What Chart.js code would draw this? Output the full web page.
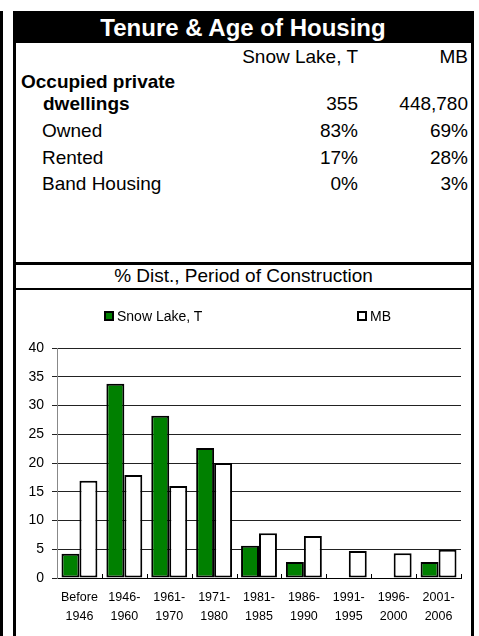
<!DOCTYPE html>
<html><head><meta charset="utf-8">
<script src="https://cdn.jsdelivr.net/npm/chart.js@4/dist/chart.umd.min.js"></script>
<style>
html,body{margin:0;padding:0;background:#fff;}
body{width:479px;height:636px;position:relative;overflow:hidden;font-family:"Liberation Sans",Arial,sans-serif;color:#000;}
.blk{position:absolute;background:#000;}
.t{position:absolute;font-size:19px;line-height:20px;white-space:nowrap;}
.b{font-weight:bold;}
#cv{position:absolute;left:16px;top:291px;}
.lg{position:absolute;font-size:14px;line-height:16px;white-space:nowrap;}
.lgbox{position:absolute;width:10px;height:10px;box-sizing:border-box;border:2px solid #000;}
</style></head><body>
<script>
// ---- Data ----
const tableTitle = "Tenure & Age of Housing";
const tableColumns = ["Snow Lake, T", "MB"];
const tableRowLabels = [["Occupied private", "dwellings"], ["Owned"], ["Rented"], ["Band Housing"]];
const tableSnowLake = ["355", "83%", "17%", "0%"];
const tableMB = ["448,780", "69%", "28%", "3%"];
const chartTitle = "% Dist., Period of Construction";
const categories = [["Before","1946"],["1946-","1960"],["1961-","1970"],["1971-","1980"],["1981-","1985"],["1986-","1990"],["1991-","1995"],["1996-","2000"],["2001-","2006"]];
const seriesNames = ["Snow Lake, T", "MB"];
const snowLakeValues = [4.2, 33.8, 28.2, 22.6, 5.6, 2.8, 0, 0, 2.8];
const mbValues = [16.9, 17.9, 16.0, 20.0, 7.8, 7.3, 4.7, 4.3, 4.9];
const yTicks = [0, 5, 10, 15, 20, 25, 30, 35, 40];
</script>

<!-- frame -->
<div class="blk" style="left:0;top:11px;width:3px;height:625px;"></div>
<div class="blk" style="left:13px;top:11px;width:3px;height:625px;"></div>
<div class="blk" style="left:471px;top:11px;width:3px;height:625px;"></div>
<div class="blk" style="left:13px;top:11px;width:460px;height:32px;"></div>
<div class="blk" style="left:13px;top:262px;width:461px;height:3px;"></div>
<div class="blk" style="left:13px;top:288px;width:461px;height:2px;"></div>
<div id="tbl"></div>
<canvas id="cv" width="455" height="345"></canvas>
<div id="legend"></div>

<script>
const tbl = document.getElementById('tbl');
function addText(txt, cls, styles) {
  const d = document.createElement('div');
  d.className = 't ' + (cls || '');
  d.textContent = txt;
  Object.assign(d.style, styles);
  tbl.appendChild(d);
  return d;
}
// title
addText(tableTitle, 'b', {left:'13px', width:'460px', textAlign:'center', top:'12px', lineHeight:'32px', fontSize:'24px', color:'#fff'});
// column headers
addText(tableColumns[0], '', {right:(479-358)+'px', top:(57-10)+'px'});
addText(tableColumns[1], '', {right:(479-468)+'px', top:(57-10)+'px'});
// rows
const rowCenters = [104, 131, 157.5, 183.5];
tableRowLabels.forEach((lab, i) => {
  if (i === 0) {
    addText(lab[0], 'b', {left:'21px', top:(82-10)+'px'});
    addText(lab[1], 'b', {left:'43px', top:(rowCenters[0]-10)+'px'});
  } else {
    addText(lab[0], '', {left:'42px', top:(rowCenters[i]-10)+'px'});
  }
  addText(tableSnowLake[i], '', {right:(479-358)+'px', top:(rowCenters[i]-10)+'px'});
  addText(tableMB[i], '', {right:(479-468)+'px', top:(rowCenters[i]-10)+'px'});
});
// chart title
addText(chartTitle, '', {left:'16px', width:'455px', textAlign:'center', top:(275.5-10)+'px'});

const FONT = "'Liberation Sans', Arial, sans-serif";

const insideTicks = {
  id: 'insideTicks',
  afterDatasetsDraw(chart) {
    const xs = chart.scales.x;
    const ctx = chart.ctx;
    const n = categories.length;
    const w = (xs.right - xs.left) / n;
    ctx.save();
    ctx.strokeStyle = '#000';
    ctx.lineWidth = 1;
    for (let i = 1; i <= n; i++) {
      const x = Math.round(xs.left + i * w) + 0.5;
      ctx.beginPath();
      ctx.moveTo(x, xs.top - 4);
      ctx.lineTo(x, xs.top);
      ctx.stroke();
    }
    ctx.restore();
  }
};

const chart = new Chart(document.getElementById('cv'), {
  type: 'bar',
  data: {
    labels: categories,
    datasets: [
      { label: seriesNames[0], data: snowLakeValues, backgroundColor: '#008000', borderColor: '#000', borderWidth: 2, borderSkipped: false, categoryPercentage: 0.8, barPercentage: 1.0 },
      { label: seriesNames[1], data: mbValues, backgroundColor: '#ffffff', borderColor: '#000', borderWidth: 2, borderSkipped: false, categoryPercentage: 0.8, barPercentage: 1.0 }
    ]
  },
  options: {
    responsive: false,
    animation: false,
    devicePixelRatio: 1,
    layout: { padding: { left: 0, right: 10, top: 57, bottom: 0 } },
    plugins: { legend: { display: false }, tooltip: { enabled: false }, title: { display: false } },
    scales: {
      x: {
        grid: { display: false, drawOnChartArea: false, drawTicks: false },
        border: { display: true, color: '#000', width: 1 },
        ticks: { color: '#000', font: { family: FONT, size: 12.5, lineHeight: 1.52 }, padding: 10, maxRotation: 0, autoSkip: false },
        afterFit(s) { s.height = 58; }
      },
      y: {
        min: 0, max: 40,
        afterBuildTicks(s) { s.ticks = yTicks.map(v => ({ value: v })); },
        grid: { color: '#222', lineWidth: 1, drawTicks: true, tickLength: 5 },
        border: { display: true, color: '#888', width: 1 },
        ticks: { color: '#000', font: { family: FONT, size: 14 }, padding: 8 },
        afterFit(s) { s.width = 41; }
      }
    }
  },
  plugins: [insideTicks]
});

// HTML legend built from datasets
const legendPos = [104, 357];
const legend = document.getElementById('legend');
chart.data.datasets.forEach((ds, i) => {
  const box = document.createElement('div');
  box.className = 'lgbox';
  box.style.left = legendPos[i] + 'px';
  box.style.top = '311px';
  box.style.background = ds.backgroundColor;
  legend.appendChild(box);
  const t = document.createElement('div');
  t.className = 'lg';
  t.style.left = (legendPos[i] + 13) + 'px';
  t.style.top = (316 - 8) + 'px';
  t.textContent = ds.label;
  legend.appendChild(t);
});
</script>
</body></html>
